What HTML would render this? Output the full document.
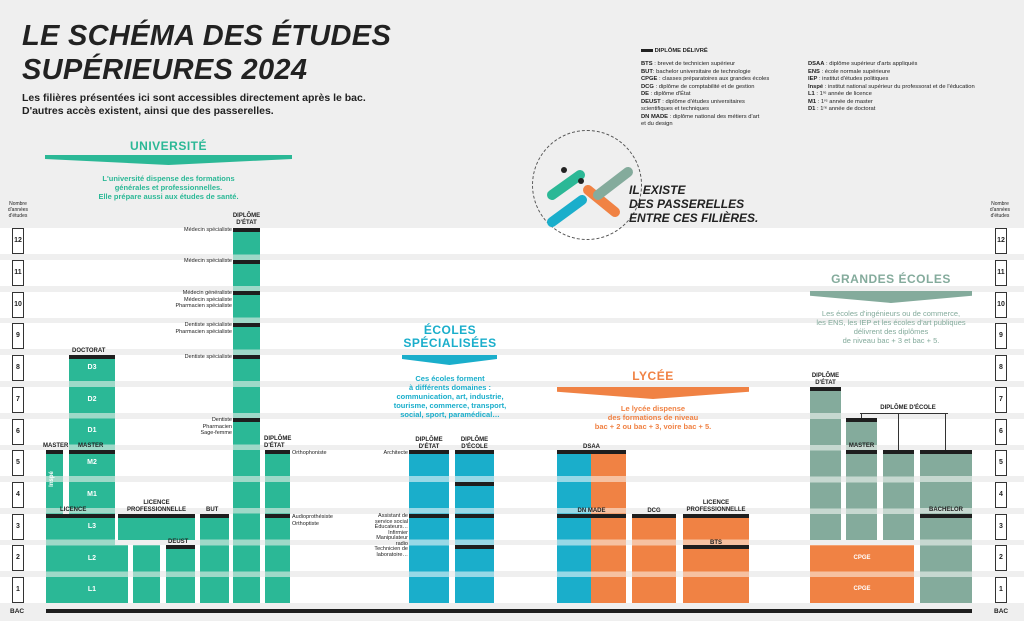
<!DOCTYPE html>
<html><head><meta charset="utf-8"><style>
*{margin:0;padding:0;box-sizing:border-box}
body{width:1024px;height:621px;background:#efefef;position:relative;overflow:hidden;font-family:"Liberation Sans",sans-serif;color:#222}
.a{position:absolute}
.band{position:absolute;left:0;width:1024px;height:26px;background:#fff}
.ax{position:absolute;width:12px;height:26px;border:1px solid #333;background:#fff;font-size:7px;font-weight:bold;text-align:center;line-height:24px}
.c{position:absolute;bottom:18px}
.g{background:repeating-linear-gradient(to top,#2bb896 0 26px,#9ed9c8 26px 31.7px)}
.b{background:repeating-linear-gradient(to top,#1aaecb 0 26px,#98d8e6 26px 31.7px)}
.o{background:repeating-linear-gradient(to top,#f08244 0 26px,#f6c1a1 26px 31.7px)}
.s{background:repeating-linear-gradient(to top,#84ab9c 0 26px,#c6d8d0 26px 31.7px)}
.bar{position:absolute;height:4px;background:#1e1e1e}
.l{position:absolute;font-size:6px;font-weight:bold;text-align:center;line-height:7px;white-space:nowrap}
.r{position:absolute;font-size:5.5px;text-align:right;line-height:6.5px;white-space:nowrap}
.w{position:absolute;color:#fff;font-size:7px;font-weight:bold;text-align:center}
.h{position:absolute;font-weight:bold;font-size:12px;text-align:center;letter-spacing:.5px}
.d{position:absolute;font-size:7.5px;font-weight:bold;text-align:center;line-height:9px}
.leg{position:absolute;font-size:5.8px;line-height:7.5px}
</style></head><body>
<div class="a" style="left:22px;top:19px;font-size:29px;font-weight:900;font-style:italic;line-height:34px;letter-spacing:.3px">LE SCHÉMA DES ÉTUDES<br>SUPÉRIEURES 2024</div>
<div class="a" style="left:22px;top:92px;font-size:10.5px;font-weight:bold;line-height:13px">Les filières présentées ici sont accessibles directement après le bac.<br>D'autres accès existent, ainsi que des passerelles.</div>

<div class="leg" style="left:641px;top:48px;font-weight:bold"><span style="display:inline-block;width:12px;height:3px;background:#222;vertical-align:middle"></span> DIPLÔME DÉLIVRÉ</div>
<div class="leg" style="left:641px;top:61px"><b>BTS</b> : brevet de technicien supérieur<br><b>BUT</b>: bachelor universitaire de technologie<br><b>CPGE</b> : classes préparatoires aux grandes écoles<br><b>DCG</b> : diplôme de comptabilité et de gestion<br><b>DE</b> : diplôme d'État<br><b>DEUST</b> : diplôme d'études universitaires<br>scientifiques et techniques<br><b>DN MADE</b> : diplôme national des métiers d'art<br>et du design</div>
<div class="leg" style="left:808px;top:61px"><b>DSAA</b> : diplôme supérieur d'arts appliqués<br><b>ENS</b> : école normale supérieure<br><b>IEP</b> : institut d'études politiques<br><b>Inspé</b> : institut national supérieur du professorat et de l'éducation<br><b>L1</b> : 1ʳᵉ année de licence<br><b>M1</b> : 1ʳᵉ année de master<br><b>D1</b> : 1ʳᵉ année de doctorat</div>

<!-- bands -->
<div class="band" style="top:228.3px"></div><div class="band" style="top:260px"></div><div class="band" style="top:291.7px"></div><div class="band" style="top:323.4px"></div><div class="band" style="top:355.1px"></div><div class="band" style="top:386.8px"></div><div class="band" style="top:418.5px"></div><div class="band" style="top:450.2px"></div><div class="band" style="top:481.9px"></div><div class="band" style="top:513.6px"></div><div class="band" style="top:545.3px"></div><div class="band" style="top:577px"></div>

<!-- circle -->
<div class="a" style="left:532px;top:130px;width:110px;height:110px;border:1px dashed #555;border-radius:50%"></div>
<svg class="a" style="left:540px;top:160px" width="100" height="75">
<path d="M12 35 L40 15" stroke="#2bb896" stroke-width="10" stroke-linecap="round"/>
<path d="M12 62 L42 40" stroke="#1aaecb" stroke-width="10" stroke-linecap="round"/>
<path d="M48 30 L75 52" stroke="#f08244" stroke-width="10" stroke-linecap="round"/>
<path d="M58 35 L88 12" stroke="#84ab9c" stroke-width="10" stroke-linecap="round"/>
<circle cx="24" cy="10" r="3" fill="#222"/><circle cx="41" cy="21" r="3" fill="#222"/>
</svg>
<div class="a" style="left:629px;top:183px;font-size:12px;font-weight:900;font-style:italic;line-height:14px">IL EXISTE<br>DES PASSERELLES<br>ENTRE CES FILIÈRES.</div>

<!-- headers -->
<div class="h" style="left:45px;width:247px;top:139px;color:#2bb896">UNIVERSITÉ</div>
<div class="a" style="left:45px;top:155px;width:247px;height:10px;background:#2bb896;clip-path:polygon(0 0,100% 0,100% 40%,50% 100%,0 40%)"></div>
<div class="d" style="left:45px;width:247px;top:174px;color:#2bb896">L'université dispense des formations<br>générales et professionnelles.<br>Elle prépare aussi aux études de santé.</div>

<div class="h" style="left:395px;width:110px;top:324px;color:#1aaecb;line-height:13px">ÉCOLES<br>SPÉCIALISÉES</div>
<div class="a" style="left:402px;top:355px;width:95px;height:10px;background:#1aaecb;clip-path:polygon(0 0,100% 0,100% 40%,50% 100%,0 40%)"></div>
<div class="d" style="left:380px;width:140px;top:374px;color:#1aaecb">Ces écoles forment<br>à différents domaines :<br>communication, art, industrie,<br>tourisme, commerce, transport,<br>social, sport, paramédical…</div>

<div class="h" style="left:557px;width:192px;top:369px;color:#f08244">LYCÉE</div>
<div class="a" style="left:557px;top:387px;width:192px;height:12px;background:#f08244;clip-path:polygon(0 0,100% 0,100% 40%,50% 100%,0 40%)"></div>
<div class="d" style="left:557px;width:192px;top:404px;color:#f08244">Le lycée dispense<br>des formations de niveau<br>bac + 2 ou bac + 3, voire bac + 5.</div>

<div class="h" style="left:810px;width:162px;top:272px;color:#84ab9c">GRANDES ÉCOLES</div>
<div class="a" style="left:810px;top:291px;width:162px;height:12px;background:#84ab9c;clip-path:polygon(0 0,100% 0,100% 40%,50% 100%,0 40%)"></div>
<div class="d" style="left:790px;width:202px;top:309px;color:#84ab9c;font-weight:normal">Les écoles d'ingénieurs ou de commerce,<br>les ENS, les IEP et les écoles d'art publiques<br>délivrent des diplômes<br>de niveau bac + 3 et bac + 5.</div>

<!-- axes -->
<div class="a" style="left:4px;top:201px;font-size:5px;text-align:center;line-height:6px;width:28px">Nombre<br>d'années<br>d'études</div>
<div class="a" style="left:986px;top:201px;font-size:5px;text-align:center;line-height:6px;width:28px">Nombre<br>d'années<br>d'études</div>
<div class="ax" style="left:12px;top:228.3px">12</div><div class="ax" style="left:12px;top:260px">11</div><div class="ax" style="left:12px;top:291.7px">10</div><div class="ax" style="left:12px;top:323.4px">9</div><div class="ax" style="left:12px;top:355.1px">8</div><div class="ax" style="left:12px;top:386.8px">7</div><div class="ax" style="left:12px;top:418.5px">6</div><div class="ax" style="left:12px;top:450.2px">5</div><div class="ax" style="left:12px;top:481.9px">4</div><div class="ax" style="left:12px;top:513.6px">3</div><div class="ax" style="left:12px;top:545.3px">2</div><div class="ax" style="left:12px;top:577px">1</div>
<div class="ax" style="left:995px;top:228.3px">12</div><div class="ax" style="left:995px;top:260px">11</div><div class="ax" style="left:995px;top:291.7px">10</div><div class="ax" style="left:995px;top:323.4px">9</div><div class="ax" style="left:995px;top:355.1px">8</div><div class="ax" style="left:995px;top:386.8px">7</div><div class="ax" style="left:995px;top:418.5px">6</div><div class="ax" style="left:995px;top:450.2px">5</div><div class="ax" style="left:995px;top:481.9px">4</div><div class="ax" style="left:995px;top:513.6px">3</div><div class="ax" style="left:995px;top:545.3px">2</div><div class="ax" style="left:995px;top:577px">1</div>
<div class="l" style="left:10px;top:608px;font-size:6.5px">BAC</div>
<div class="l" style="left:994px;top:608px;font-size:6.5px">BAC</div>
<div class="a" style="left:46px;top:609px;width:926px;height:4px;background:#1e1e1e"></div>

<!-- université columns -->
<div class="c g" style="left:46px;width:82px;height:58px"></div>
<div class="c g" style="left:46px;width:69px;height:89.4px"></div>
<div class="c g" style="left:46px;width:17px;height:152.8px"></div>
<div class="c g" style="left:69px;width:46px;height:247.9px"></div>
<div class="c" style="left:118px;width:77px;background:#2bb896;bottom:81.4px;height:26px"></div>
<div class="c g" style="left:133px;width:27px;height:58px"></div>
<div class="c g" style="left:166px;width:29px;height:58px"></div>
<div class="c g" style="left:200px;width:29px;height:89.4px"></div>
<div class="c g" style="left:233px;width:27px;height:374.7px"></div>
<div class="c g" style="left:265px;width:25px;height:152.8px"></div>
<div class="bar" style="left:46px;top:450px;width:17px"></div>
<div class="bar" style="left:69px;top:450px;width:46px"></div>
<div class="bar" style="left:69px;top:355px;width:46px"></div>
<div class="bar" style="left:46px;top:514px;width:69px"></div>
<div class="bar" style="left:118px;top:514px;width:77px"></div>
<div class="bar" style="left:166px;top:545px;width:29px"></div>
<div class="bar" style="left:200px;top:514px;width:29px"></div>
<div class="bar" style="left:233px;top:228px;width:27px"></div><div class="bar" style="left:233px;top:260px;width:27px"></div><div class="bar" style="left:233px;top:291px;width:27px"></div><div class="bar" style="left:233px;top:323px;width:27px"></div><div class="bar" style="left:233px;top:355px;width:27px"></div><div class="bar" style="left:233px;top:418px;width:27px"></div>
<div class="bar" style="left:265px;top:450px;width:25px"></div><div class="bar" style="left:265px;top:514px;width:25px"></div>
<div class="w" style="left:69px;width:46px;top:364px">D3</div><div class="w" style="left:69px;width:46px;top:396px">D2</div><div class="w" style="left:69px;width:46px;top:427px">D1</div><div class="w" style="left:69px;width:46px;top:459px">M2</div><div class="w" style="left:69px;width:46px;top:491px">M1</div><div class="w" style="left:69px;width:46px;top:523px">L3</div><div class="w" style="left:69px;width:46px;top:555px">L2</div><div class="w" style="left:69px;width:46px;top:586px">L1</div>
<div class="w" style="left:44px;top:476px;transform:rotate(-90deg);font-size:6px">Inspé</div>
<div class="l" style="left:72px;top:348px">DOCTORAT</div>
<div class="l" style="left:43px;top:443px">MASTER</div><div class="l" style="left:78px;top:443px">MASTER</div>
<div class="l" style="left:60px;top:507px">LICENCE</div>
<div class="l" style="left:118px;width:77px;top:500px">LICENCE<br>PROFESSIONNELLE</div>
<div class="l" style="left:168px;top:539px">DEUST</div>
<div class="l" style="left:206px;top:507px">BUT</div>
<div class="l" style="left:228px;width:37px;top:213px">DIPLÔME<br>D'ÉTAT</div>
<div class="l" style="left:264px;width:27px;top:436px;text-align:left">DIPLÔME<br>D'ÉTAT</div>
<div class="r" style="right:792px;top:227px">Médecin spécialiste</div>
<div class="r" style="right:792px;top:258px">Médecin spécialiste</div>
<div class="r" style="right:792px;top:290px">Médecin généraliste<br>Médecin spécialiste<br>Pharmacien spécialiste</div>
<div class="r" style="right:792px;top:322px">Dentiste spécialiste<br>Pharmacien spécialiste</div>
<div class="r" style="right:792px;top:354px">Dentiste spécialiste</div>
<div class="r" style="right:792px;top:417px">Dentiste<br>Pharmacien<br>Sage-femme</div>
<div class="r" style="left:292px;top:450px;text-align:left">Orthophoniste</div>
<div class="r" style="left:292px;top:514px;text-align:left">Audioprothésiste<br>Orthoptiste</div>

<!-- écoles spécialisées -->
<div class="c b" style="left:409px;width:40px;height:152.8px"></div>
<div class="c b" style="left:455px;width:39px;height:152.8px"></div>
<div class="bar" style="left:409px;top:450px;width:40px"></div><div class="bar" style="left:409px;top:514px;width:40px"></div>
<div class="bar" style="left:455px;top:450px;width:39px"></div><div class="bar" style="left:455px;top:482px;width:39px"></div><div class="bar" style="left:455px;top:514px;width:39px"></div><div class="bar" style="left:455px;top:545px;width:39px"></div>
<div class="l" style="left:409px;width:40px;top:437px">DIPLÔME<br>D'ÉTAT</div>
<div class="l" style="left:455px;width:39px;top:437px">DIPLÔME<br>D'ÉCOLE</div>
<div class="r" style="right:616px;top:450px">Architecte</div>
<div class="r" style="right:616px;top:514px;line-height:5.5px">Assistant de<br>service social<br>Éducateurs…<br>Infirmier<br>Manipulateur<br>radio<br>Technicien de<br>laboratoire…</div>

<!-- lycée -->
<div class="c b" style="left:557px;width:34px;height:152.8px"></div>
<div class="c o" style="left:591px;width:35px;height:152.8px"></div>
<div class="c o" style="left:632px;width:44px;height:89.4px"></div>
<div class="c o" style="left:683px;width:66px;height:89.4px"></div>
<div class="bar" style="left:557px;top:450px;width:69px"></div><div class="bar" style="left:557px;top:514px;width:69px"></div>
<div class="bar" style="left:632px;top:514px;width:44px"></div><div class="bar" style="left:683px;top:514px;width:66px"></div><div class="bar" style="left:683px;top:545px;width:66px"></div>
<div class="l" style="left:557px;width:69px;top:444px">DSAA</div>
<div class="l" style="left:557px;width:69px;top:508px">DN MADE</div>
<div class="l" style="left:632px;width:44px;top:508px">DCG</div>
<div class="l" style="left:683px;width:66px;top:500px">LICENCE<br>PROFESSIONNELLE</div>
<div class="l" style="left:683px;width:66px;top:540px">BTS</div>

<!-- grandes écoles -->
<div class="c o" style="left:810px;width:104px;height:58px"></div>
<div class="c s" style="left:810px;width:31px;bottom:81.4px;height:152.8px"></div>
<div class="c s" style="left:846px;width:31px;bottom:81.4px;height:121.1px"></div>
<div class="c s" style="left:883px;width:31px;bottom:81.4px;height:89.4px"></div>
<div class="c s" style="left:920px;width:52px;height:152.8px"></div>
<div class="bar" style="left:810px;top:387px;width:31px"></div>
<div class="bar" style="left:846px;top:418px;width:31px"></div><div class="bar" style="left:846px;top:450px;width:31px"></div>
<div class="bar" style="left:883px;top:450px;width:31px"></div><div class="bar" style="left:920px;top:450px;width:52px"></div><div class="bar" style="left:920px;top:514px;width:52px"></div>
<div class="w" style="left:810px;width:104px;top:555px;font-size:6px">CPGE</div>
<div class="w" style="left:810px;width:104px;top:586px;font-size:6px">CPGE</div>
<div class="l" style="left:810px;width:31px;top:373px">DIPLÔME<br>D'ÉTAT</div>
<div class="l" style="left:846px;width:31px;top:443px">MASTER</div>
<div class="l" style="left:920px;width:52px;top:507px">BACHELOR</div>
<div class="l" style="left:860px;width:96px;top:405px">DIPLÔME D'ÉCOLE</div>
<div class="a" style="left:860px;top:413px;width:88px;height:1px;background:#333"></div>
<div class="a" style="left:861px;top:413px;width:1px;height:5px;background:#333"></div>
<div class="a" style="left:898px;top:413px;width:1px;height:37px;background:#333"></div>
<div class="a" style="left:945px;top:413px;width:1px;height:37px;background:#333"></div>
</body></html>
